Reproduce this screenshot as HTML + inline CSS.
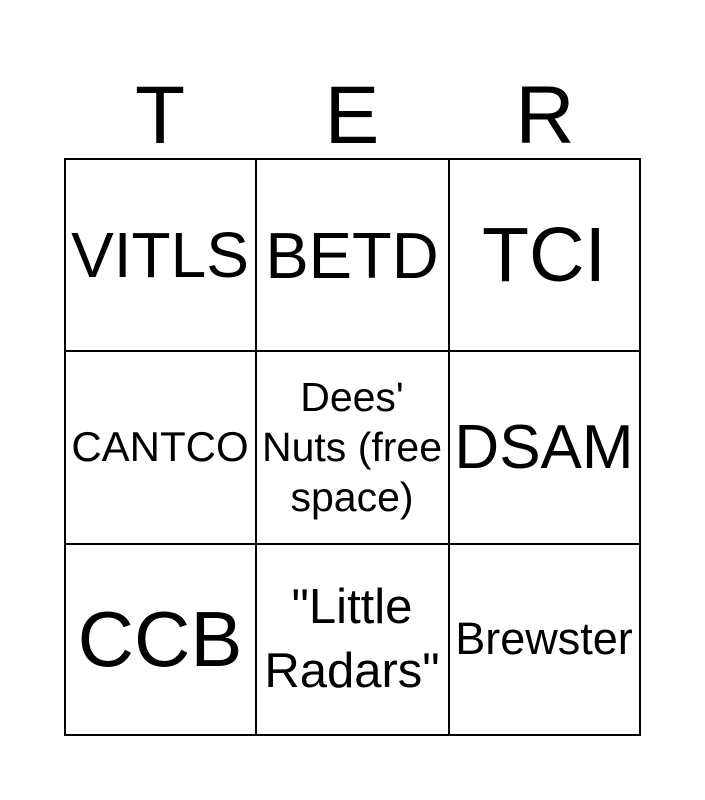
<!DOCTYPE html>
<html><head><meta charset="utf-8"><style>
body{margin:0;width:705px;height:800px;background:#fff;font-family:"Liberation Sans",sans-serif;position:relative;overflow:hidden}
.h{position:absolute;top:66px;font-size:82px;line-height:100px;width:192px;text-align:center}
.g{position:absolute;left:64px;top:158px;width:577px;height:578px;border:2px solid #000;box-sizing:border-box}
.c{position:absolute;display:flex;align-items:center;justify-content:center;text-align:center;width:192px;height:192px;color:#000}
.vl{position:absolute;top:0;width:2px;height:100%;background:#000}
.hl{position:absolute;left:0;height:2px;width:100%;background:#000}
</style></head><body>
<div class="h" style="left:64px">T</div>
<div class="h" style="left:256px">E</div>
<div class="h" style="left:449px">R</div>
<div class="g">
<div class="vl" style="left:189px"></div><div class="vl" style="left:382px"></div>
<div class="hl" style="top:190px"></div><div class="hl" style="top:383px"></div>
<div class="c" style="left:-2px;top:-1px;font-size:64px">VITLS</div>
<div class="c" style="left:190px;top:-1px;font-size:65px">BETD</div>
<div class="c" style="left:382px;top:-1px;font-size:77px">TCI</div>
<div class="c" style="left:-2px;top:191px;font-size:42px">CANTCO</div>
<div class="c" style="left:190px;top:191px;font-size:41px;line-height:50px">Dees'<br>Nuts (free<br>space)</div>
<div class="c" style="left:382px;top:191px;font-size:62px">DSAM</div>
<div class="c" style="left:-2px;top:383px;font-size:78px">CCB</div>
<div class="c" style="left:190px;top:383px;font-size:49px;line-height:64px">"Little<br>Radars"</div>
<div class="c" style="left:382px;top:383px;font-size:45px">Brewster</div>
</div>
</body></html>
